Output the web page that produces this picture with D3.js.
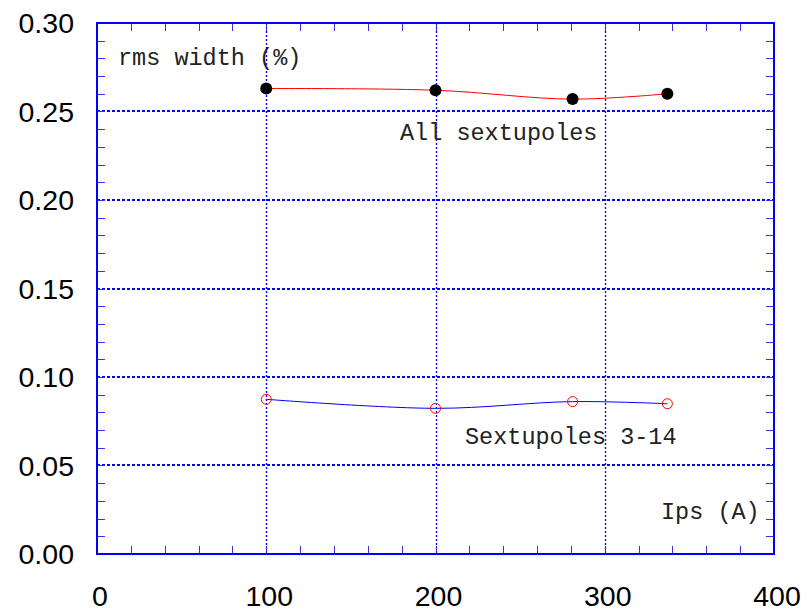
<!DOCTYPE html>
<html>
<head>
<meta charset="utf-8">
<script src="https://cdn.jsdelivr.net/npm/d3@7"></script>
<style>
  body { margin: 0; background: #fff; }
  svg { display: block; }
</style>
</head>
<body>
<svg id="chart" width="809" height="614"></svg>
<script>
// Data
const xAll = [100, 200, 281, 337];
const yAll = [0.263, 0.262, 0.257, 0.260];
const xSub = [100, 200, 281, 337];
const ySub = [0.0874, 0.0823, 0.0861, 0.0849];
const xTickLabels = [0, 100, 200, 300, 400];
const yTickLabels = [0.00, 0.05, 0.10, 0.15, 0.20, 0.25, 0.30];

const svg = d3.select("#chart");
const L = 97, R = 774, T = 23, B = 554;
const x = d3.scaleLinear().domain([0, 400]).range([L, R]);
const y = d3.scaleLinear().domain([0, 0.30]).range([B, T]);
const blue = "#0000ff";

// grid
const g = svg.append("g");
g.selectAll("line.vg").data([100, 200, 300]).enter().append("line")
  .attr("x1", d => Math.round(x(d)) + 0.5).attr("x2", d => Math.round(x(d)) + 0.5).attr("y1", T).attr("y2", B)
  .attr("stroke", blue).attr("stroke-width", 1.3).attr("stroke-dasharray", "2,2");
g.selectAll("line.hg").data([0.05, 0.10, 0.15, 0.20, 0.25]).enter().append("line")
  .attr("x1", L).attr("x2", R).attr("y1", d => Math.round(y(d))).attr("y2", d => Math.round(y(d)))
  .attr("stroke", blue).attr("stroke-width", 2).attr("stroke-dasharray", "3,2");

// minor ticks
const xt = d3.range(20, 400, 20);
const yt = d3.range(1, 30).map(i => i / 100);
const tl = 8;
const tc = "#3333ee";
g.selectAll("line.xtb").data(xt).enter().append("line")
  .attr("x1", d => Math.round(x(d)) + 0.5).attr("x2", d => Math.round(x(d)) + 0.5).attr("y1", B).attr("y2", B - tl)
  .attr("stroke", tc).attr("stroke-width", 1);
g.selectAll("line.xtt").data(xt).enter().append("line")
  .attr("x1", d => Math.round(x(d)) + 0.5).attr("x2", d => Math.round(x(d)) + 0.5).attr("y1", T).attr("y2", T + tl)
  .attr("stroke", tc).attr("stroke-width", 1);
g.selectAll("line.ytl").data(yt).enter().append("line")
  .attr("x1", L).attr("x2", L + tl).attr("y1", d => Math.round(y(d)) + 0.5).attr("y2", d => Math.round(y(d)) + 0.5)
  .attr("stroke", tc).attr("stroke-width", 1);
g.selectAll("line.ytr").data(yt).enter().append("line")
  .attr("x1", R).attr("x2", R - tl).attr("y1", d => Math.round(y(d)) + 0.5).attr("y2", d => Math.round(y(d)) + 0.5)
  .attr("stroke", tc).attr("stroke-width", 1);

// frame
svg.append("rect").attr("x", L).attr("y", T).attr("width", R - L).attr("height", B - T)
  .attr("fill", "none").attr("stroke", blue).attr("stroke-width", 2);

// tick labels
svg.selectAll("text.xl").data(xTickLabels).enter().append("text")
  .attr("x", d => x(d) + 3).attr("y", 606)
  .attr("text-anchor", "middle")
  .attr("font-family", "Liberation Sans, Arial, sans-serif").attr("font-size", 28.5)
  .text(d => d);
svg.selectAll("text.yl").data(yTickLabels).enter().append("text")
  .attr("x", 74).attr("y", d => y(d) + 10)
  .attr("text-anchor", "end")
  .attr("font-family", "Liberation Sans, Arial, sans-serif").attr("font-size", 28.5)
  .text(d => d.toFixed(2));

// lines
const line = d3.line().curve(d3.curveCatmullRom).x(d => x(d[0])).y(d => y(d[1]));
const allPts = xAll.map((v, i) => [v, yAll[i]]);
const subPts = xSub.map((v, i) => [v, ySub[i]]);
svg.append("path").attr("d", line(allPts)).attr("fill", "none").attr("stroke", "#ff0000").attr("stroke-width", 1);
svg.append("path").attr("d", line(subPts)).attr("fill", "none").attr("stroke", blue).attr("stroke-width", 1);

svg.selectAll("circle.a").data(allPts).enter().append("circle")
  .attr("cx", d => x(d[0])).attr("cy", d => y(d[1])).attr("r", 6).attr("fill", "#000");
svg.selectAll("circle.s").data(subPts).enter().append("circle")
  .attr("cx", d => x(d[0])).attr("cy", d => y(d[1])).attr("r", 5)
  .attr("fill", "none").attr("stroke", "#ff0000").attr("stroke-width", 1);

// annotations
const mono = "Liberation Mono, Courier New, monospace";
const texts = [
  { t: "rms width (%)", px: 118, py: 65 },
  { t: "All sextupoles", px: 400, py: 140 },
  { t: "Sextupoles 3-14", px: 465, py: 444 },
  { t: "Ips (A)", px: 661, py: 519 }
];
svg.selectAll("text.ann").data(texts).enter().append("text")
  .attr("x", d => d.px).attr("y", d => d.py)
  .attr("font-family", mono).attr("font-size", 23.5).attr("fill", "#222")
  .attr("xml:space", "preserve").style("white-space", "pre")
  .text(d => d.t);
</script>
</body>
</html>
